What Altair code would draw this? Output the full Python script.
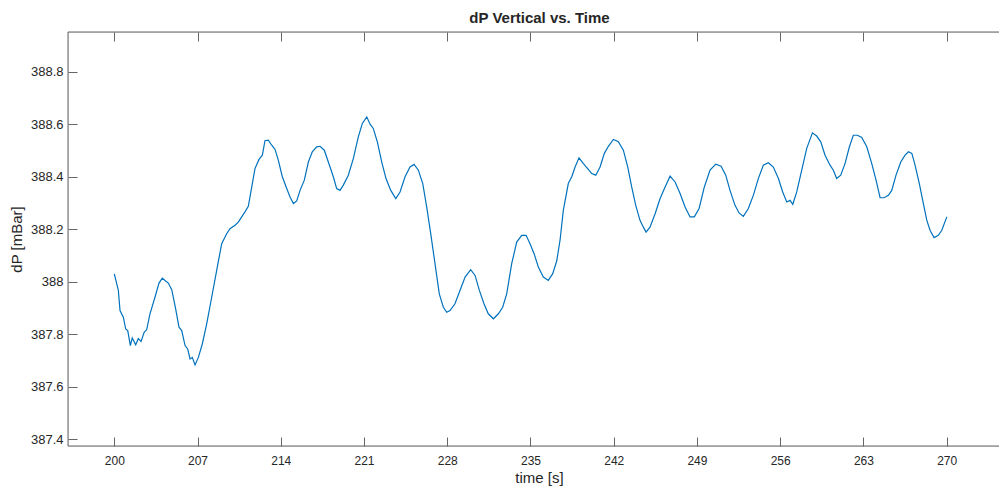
import altair as alt
import pandas as pd

# ---- data ----
time_s = [
    200.0, 200.34, 200.48, 200.76, 200.96, 201.13, 201.35, 201.51, 201.8, 202.02,
    202.25, 202.52, 202.72, 203.0, 203.42, 203.76, 204.04, 204.26, 204.54, 204.83,
    205.16, 205.44, 205.67, 205.95, 206.17, 206.37, 206.56, 206.79, 207.07, 207.4,
    207.77, 208.19, 208.61, 209.03, 209.45, 209.73, 210.15, 210.43, 210.71, 210.99,
    211.27, 211.56, 211.83, 212.17, 212.45, 212.67, 212.95, 213.24, 213.52, 213.79,
    214.13, 214.5, 214.78, 215.06, 215.34, 215.62, 215.98, 216.32, 216.65, 217.02,
    217.3, 217.66, 218.0, 218.42, 218.7, 218.98, 219.26, 219.68, 220.1, 220.52,
    220.86, 221.23, 221.51, 221.78, 222.12, 222.49, 222.85, 223.25, 223.67, 224.03,
    224.45, 224.87, 225.21, 225.57, 225.94, 226.27, 226.61, 226.97, 227.33, 227.67,
    227.96, 228.23, 228.65, 229.07, 229.5, 229.97, 230.34, 230.7, 231.09, 231.45,
    231.88, 232.3, 232.66, 233.0, 233.42, 233.84, 234.26, 234.63, 234.96, 235.3,
    235.66, 236.08, 236.5, 236.87, 237.21, 237.49, 237.76, 238.18, 238.47, 238.75,
    239.08, 239.45, 239.81, 240.15, 240.49, 240.85, 241.21, 241.55, 241.97, 242.39,
    242.81, 243.18, 243.51, 243.85, 244.21, 244.49, 244.72, 245.05, 245.48, 245.9,
    246.32, 246.74, 247.16, 247.58, 248.0, 248.42, 248.78, 249.18, 249.62, 250.1,
    250.58, 251.03, 251.42, 251.78, 252.2, 252.54, 252.9, 253.32, 253.74, 254.16,
    254.58, 255.0, 255.42, 255.85, 256.21, 256.55, 256.83, 257.06, 257.39, 257.81,
    258.23, 258.71, 259.07, 259.41, 259.77, 260.19, 260.47, 260.75, 261.09, 261.45,
    261.82, 262.15, 262.49, 262.86, 263.28, 263.7, 264.06, 264.4, 264.73, 265.1,
    265.38, 265.74, 266.14, 266.5, 266.78, 267.07, 267.34, 267.7, 268.04, 268.33,
    268.6, 268.94, 269.3, 269.59, 270.01,
]
dp_mbar = [
    388.03, 387.967, 387.89, 387.865, 387.82, 387.814, 387.757, 387.786, 387.76, 387.784,
    387.773, 387.808, 387.817, 387.878, 387.941, 387.995, 388.014, 388.005, 387.995, 387.97,
    387.897, 387.827, 387.814, 387.757, 387.744, 387.706, 387.712, 387.683, 387.712, 387.763,
    387.84, 387.941, 388.043, 388.145, 388.183, 388.202, 388.215, 388.227, 388.247, 388.266,
    388.287, 388.361, 388.431, 388.466, 388.482, 388.537, 388.539, 388.52, 388.504, 388.463,
    388.4, 388.355, 388.323, 388.298, 388.308, 388.348, 388.387, 388.456, 388.495, 388.514,
    388.516, 388.501, 388.456, 388.4, 388.355, 388.348, 388.368, 388.406, 388.469, 388.552,
    388.603, 388.628, 388.6, 388.584, 388.533, 388.456, 388.393, 388.348, 388.317, 388.342,
    388.4, 388.437, 388.447, 388.425, 388.374, 388.285, 388.183, 388.069, 387.954, 387.903,
    387.884, 387.89, 387.916, 387.967, 388.018, 388.046, 388.024, 387.967, 387.916, 387.878,
    387.859, 387.878, 387.903, 387.954, 388.069, 388.151, 388.177, 388.177, 388.145, 388.107,
    388.056, 388.018, 388.005, 388.031, 388.08, 388.16, 388.272, 388.374, 388.4, 388.437,
    388.472, 388.45, 388.431, 388.412, 388.406, 388.437, 388.489, 388.516, 388.542, 388.533,
    388.501, 388.437, 388.361, 388.291, 388.234, 388.208, 388.189, 388.208, 388.259, 388.317,
    388.361, 388.402, 388.38, 388.336, 388.285, 388.247, 388.247, 388.279, 388.361, 388.425,
    388.448, 388.44, 388.406, 388.348, 388.291, 388.262, 388.249, 388.279, 388.329, 388.393,
    388.444, 388.453, 388.437, 388.393, 388.342, 388.304, 388.31, 388.295, 388.342, 388.425,
    388.508, 388.567, 388.555, 388.533, 388.482, 388.444, 388.425, 388.393, 388.406, 388.45,
    388.514, 388.558, 388.558, 388.55, 388.514, 388.45, 388.387, 388.32, 388.32, 388.329,
    388.348, 388.406, 388.456, 388.482, 388.495, 388.489, 388.444, 388.374, 388.298, 388.234,
    388.196, 388.168, 388.177, 388.196, 388.247,
]
x_ticks = [200, 207, 214, 221, 228, 235, 242, 249, 256, 263, 270]
y_ticks = [387.4, 387.6, 387.8, 388.0, 388.2, 388.4, 388.6, 388.8]
x_domain = [196.106, 274.40]
y_domain = [387.3745, 388.9512]

df = pd.DataFrame({"time": time_s, "dP": dp_mbar})

FONT = "Liberation Sans"
AXIS_GRAY = "#666666"
TEXT = "#262626"
PLOT_W = 931
PLOT_H = 414

x_scale = alt.Scale(domain=x_domain, nice=False, zero=False)
y_scale = alt.Scale(domain=y_domain, nice=False, zero=False)

# axes box (its right side lies outside the picture, as in the reference)
frame = alt.Chart(alt.Data(values=[{"box": 1}])).mark_rect(
    fill="transparent", stroke=AXIS_GRAY, strokeWidth=1
).encode(
    x=alt.value(0), x2=alt.value(PLOT_W + 20),
    y=alt.value(0), y2=alt.value(PLOT_H),
)

line = alt.Chart(df).mark_line(color="#0072BD", strokeWidth=1.2, clip=True).encode(
    x=alt.X(
        "time:Q",
        scale=x_scale,
        axis=alt.Axis(
            orient="bottom", values=x_ticks, title="time [s]", offset=-9,
            domain=False, grid=False, tickSize=9, tickColor=AXIS_GRAY, tickWidth=1,
            labelFontSize=12, labelColor=TEXT, labelPadding=9, labelFont=FONT,
            titleFontSize=15, titleFontWeight="normal", titleColor=TEXT,
            titleFont=FONT, titlePadding=4, titleX=471,
        ),
    ),
    y=alt.Y(
        "dP:Q",
        scale=y_scale,
        axis=alt.Axis(
            orient="left", values=y_ticks, format=".1~f", title="dP [mBar]", offset=-9,
            domain=False, grid=False, tickSize=9, tickColor=AXIS_GRAY, tickWidth=1,
            labelFontSize=13, labelColor=TEXT, labelPadding=5, labelFont=FONT,
            titleFontSize=15, titleFontWeight="normal", titleColor=TEXT,
            titleFont=FONT, titlePadding=6,
        ),
    ),
)

top = alt.Chart(df).mark_line(opacity=0).encode(
    x=alt.X(
        "time:Q",
        scale=x_scale,
        axis=alt.Axis(
            orient="top", values=x_ticks, title=None, labels=False, offset=-9,
            domain=False, grid=False, tickSize=9, tickColor=AXIS_GRAY, tickWidth=1,
        ),
    ),
    y=alt.Y("dP:Q", scale=y_scale, axis=None),
)

chart = (
    alt.layer(frame, line, top)
    .resolve_axis(x="independent", y="independent")
    .properties(
        width=PLOT_W,
        height=PLOT_H,
        padding={"left": 68, "top": 32, "right": 0, "bottom": 42},
        autosize=alt.AutoSizeParams(type="none"),
        title=alt.TitleParams(
            "dP Vertical vs. Time", fontSize=15, fontWeight="bold", font=FONT,
            color=TEXT, anchor="middle", dx=6, offset=6,
        ),
    )
    .configure_view(stroke=None)
    .configure(background="white")
)

chart.save("out.html", embed_options={"renderer": "svg", "actions": False})
